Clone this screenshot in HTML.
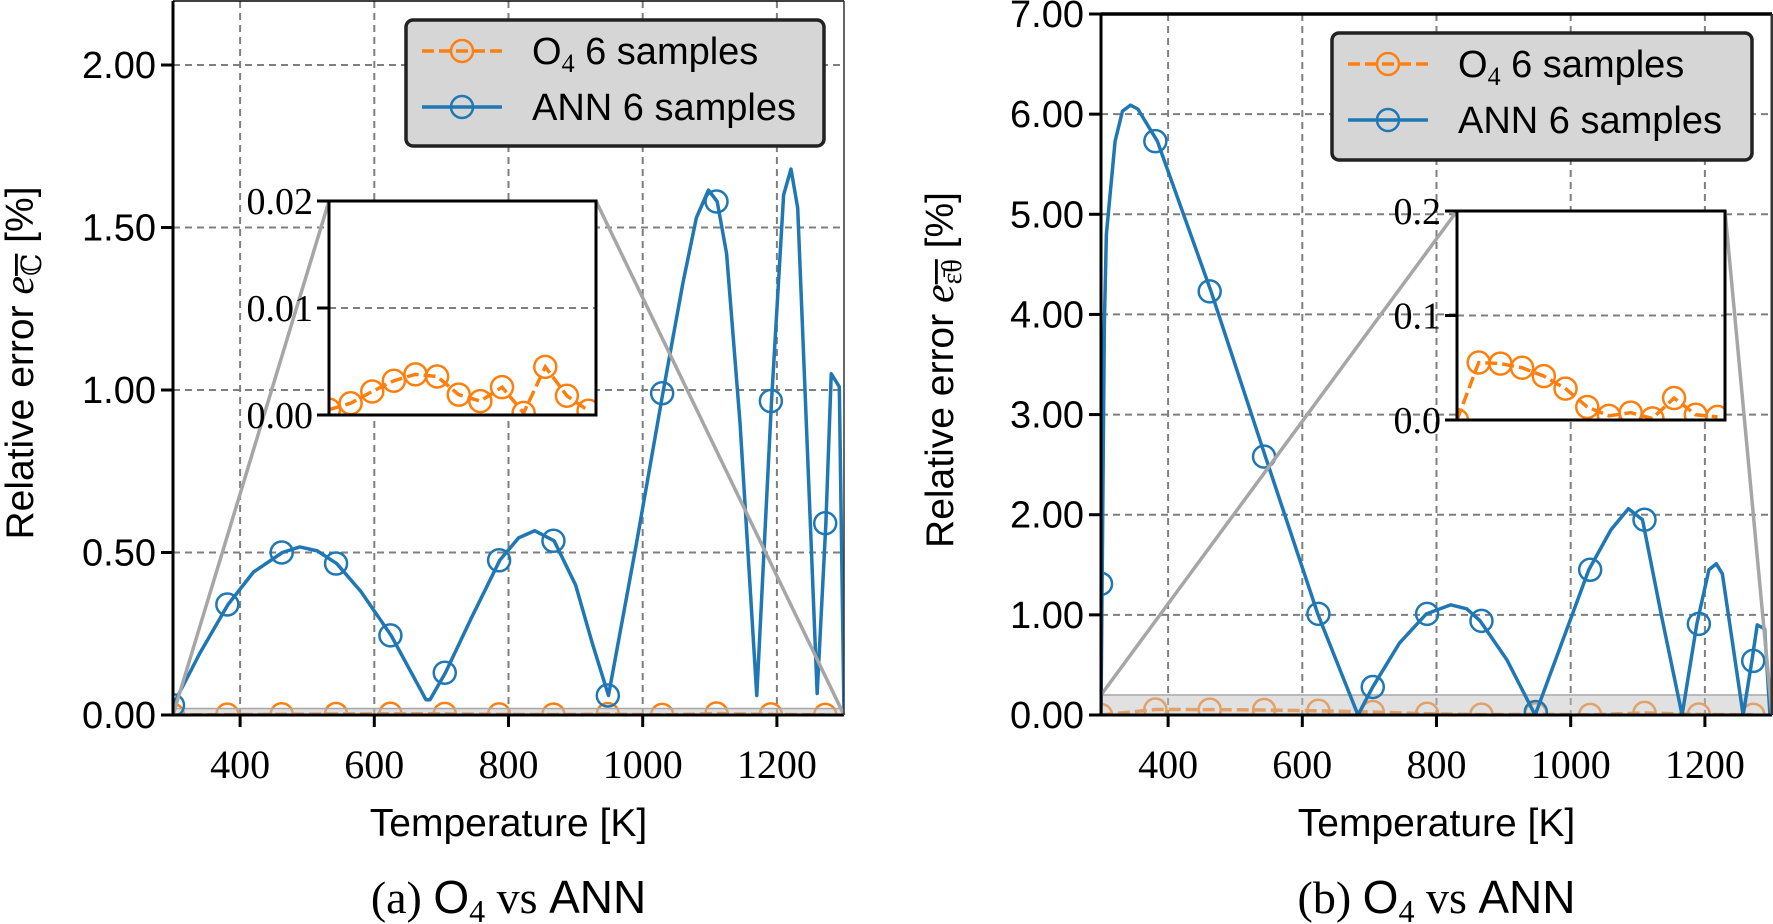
<!DOCTYPE html>
<html><head><meta charset="utf-8">
<style>
html,body{margin:0;padding:0;background:#fff;}
svg{display:block;}
.sans{font-family:"Liberation Sans",Arial,sans-serif;}
.serif{font-family:"Liberation Serif","DejaVu Serif",serif;}
</style></head>
<body>
<svg id="fig" width="1773" height="924" viewBox="0 0 1773 924" xmlns="http://www.w3.org/2000/svg">
<g id="panelA"></g>
<g id="panelB"></g>
</svg>
<script>
// ---------- data ----------
const markerT = [300,381,462,543,624,705,786,867,948,1029,1110,1191,1272];
// Panel (a)
const annA_T = [300,340,382,420,463,489,515,544,580,625,650,677,683,706,745,787,815,839,868,900,925,949,990,1030,1060,1080,1098,1111,1125,1145,1170,1192,1210,1221,1231,1260,1273,1281,1293,1300];
const annA_V = [0.03,0.19,0.34,0.44,0.50,0.517,0.505,0.466,0.38,0.245,0.15,0.047,0.047,0.13,0.30,0.476,0.545,0.567,0.536,0.40,0.22,0.06,0.52,0.99,1.33,1.53,1.615,1.58,1.42,0.9,0.06,0.966,1.60,1.68,1.56,0.066,0.59,1.05,1.01,0.0];
const annA_M = [0.03,0.34,0.50,0.466,0.245,0.13,0.476,0.536,0.06,0.99,1.58,0.966,0.59];
const o4A_M = [0.0005,0.0011,0.0022,0.0032,0.0038,0.0036,0.0019,0.0013,0.0026,0.0002,0.0045,0.0018,0.0004];
const yTicksA = [0,0.5,1.0,1.5,2.0];
const yTickLabelsA = ["0.00","0.50","1.00","1.50","2.00"];
const insetTicksA = [0,0.01,0.02];
const insetLabelsA = ["0.00","0.01","0.02"];
// Panel (b)
const annB_T = [300,305,308,321,332,344,355,384,464,545,623,683,705,745,785,821,845,865,905,947,1027,1060,1086,1107,1135,1166,1188,1206,1217,1226,1257,1270,1278,1289,1297];
const annB_V = [0,3.9,4.8,5.73,6.03,6.09,6.05,5.73,4.23,2.58,1.01,0,0.28,0.72,1.01,1.10,1.06,0.94,0.55,0,1.45,1.85,2.06,1.95,1.0,0,0.91,1.45,1.51,1.41,0,0.54,0.9,0.86,0];
const annB_M = [1.31,5.73,4.23,2.58,1.01,0.28,1.01,0.94,0.03,1.45,1.95,0.91,0.54];
const o4B_M = [0.0,0.055,0.054,0.050,0.042,0.030,0.0125,0.004,0.007,0.0015,0.021,0.005,0.003];
const yTicksB = [0,1,2,3,4,5,6,7];
const yTickLabelsB = ["0.00","1.00","2.00","3.00","4.00","5.00","6.00","7.00"];
const insetTicksB = [0,0.1,0.2];
const insetLabelsB = ["0.0","0.1","0.2"];
const xTicks = [400,600,800,1000,1200];
const xTickLabels = ["400","600","800","1000","1200"];

const NS="http://www.w3.org/2000/svg";
const BLUE="#1f77b4", ORANGE="#ff7f0e";
function mk(parent,tag,attrs,text){const e=document.createElementNS(NS,tag);for(const k in attrs)e.setAttribute(k,attrs[k]);if(text!==undefined)e.textContent=text;parent.appendChild(e);return e;}
function scale(d0,d1,r0,r1){return v=>r0+(v-d0)/(d1-d0)*(r1-r0);}

function panel(g,cfg){
  const x=scale(300,1300,cfg.L,cfg.R), y=scale(0,cfg.ymax,cfg.B,cfg.B-(cfg.B-cfg.T0)*cfg.ymax/cfg.ymaxRef);
  const clipId=cfg.id+"clip";
  const cp=mk(g,"clipPath",{id:clipId});mk(cp,"rect",{x:cfg.L,y:cfg.T,width:cfg.R-cfg.L,height:cfg.B-cfg.T});
  const grid=mk(g,"g",{"clip-path":`url(#${clipId})`});
  
  
  xTicks.forEach(t=>mk(grid,"line",{x1:x(t),x2:x(t),y1:cfg.T,y2:cfg.B,stroke:"#7f7f7f","stroke-width":2,"stroke-dasharray":"7,5"}));
  cfg.yt.forEach(t=>{if(t>0)mk(grid,"line",{x1:cfg.L,x2:cfg.R,y1:y(t),y2:y(t),stroke:"#7f7f7f","stroke-width":2,"stroke-dasharray":"7,5"});});
  const plot=mk(g,"g",{"clip-path":`url(#${clipId})`});
  const op=markerT.map((t,i)=>x(t)+","+y(cfg.o4[i])).join(" ");
  const ol=mk(plot,"polyline",{points:op,fill:"none",stroke:ORANGE,"stroke-width":3.5,"stroke-dasharray":"12,5"});
  
  
  markerT.forEach((t,i)=>{const c=mk(plot,"circle",{cx:x(t),cy:y(cfg.o4[i]),r:11,fill:"none",stroke:ORANGE,"stroke-width":2.5});
    
    });
  const band=mk(plot,"rect",{x:cfg.L,y:y(cfg.zoomMax),width:cfg.R-cfg.L,height:y(0)-y(cfg.zoomMax),fill:"rgba(195,195,195,0.5)",stroke:"#a8a8a8","stroke-width":1.5});
  
  
  const ap=cfg.annT.map((t,i)=>x(t)+","+y(cfg.annV[i])).join(" ");
  const al=mk(plot,"polyline",{points:ap,fill:"none",stroke:BLUE,"stroke-width":3.5,"stroke-linejoin":"round"});
  
  
  markerT.forEach((t,i)=>{const c=mk(plot,"circle",{cx:x(t),cy:y(cfg.annM[i]),r:11,fill:"none",stroke:BLUE,"stroke-width":2.5});
    
    });
  const I=cfg.inset;
  mk(g,"line",{x1:cfg.conn1[0],y1:cfg.conn1[1],x2:I.L,y2:I.T,stroke:"#a6a6a6","stroke-width":3.5});
  mk(g,"line",{x1:I.R,y1:I.T,x2:cfg.R,y2:cfg.B,stroke:"#a6a6a6","stroke-width":3.5});
  mk(g,"line",{x1:cfg.L,y1:cfg.T,x2:cfg.L,y2:cfg.B+1.5,stroke:"#000","stroke-width":3});
  mk(g,"line",{x1:cfg.L-1.5,y1:cfg.B,x2:cfg.R,y2:cfg.B,stroke:"#000","stroke-width":3});
  mk(g,"line",{x1:cfg.L,y1:cfg.T,x2:cfg.R,y2:cfg.T,stroke:"#000","stroke-width":cfg.topW});
  mk(g,"line",{x1:cfg.R,y1:cfg.T,x2:cfg.R,y2:cfg.B,stroke:"#333","stroke-width":cfg.rightW});
  xTicks.forEach((t,i)=>{mk(g,"line",{x1:x(t),x2:x(t),y1:cfg.B,y2:cfg.B+12,stroke:"#000","stroke-width":3});
    const tl=mk(g,"text",{x:x(t),y:cfg.B+63,"text-anchor":"middle","font-size":40,class:"serif"},xTickLabels[i]);
    
    });
  cfg.yt.forEach((t,i)=>{mk(g,"line",{x1:cfg.L-12,x2:cfg.L,y1:y(t),y2:y(t),stroke:"#000","stroke-width":3});
    const tl=mk(g,"text",{x:cfg.L-17,y:y(t)+13,"text-anchor":"end","font-size":38,class:"sans"},cfg.ytl[i]);
    
    });
  const ig=mk(g,"g",{});
  
  
  const ix=scale(300,1300,I.L,I.R), iy=scale(0,cfg.zoomMax,I.B,I.T);
  mk(ig,"rect",{x:I.L,y:I.T,width:I.R-I.L,height:I.B-I.T,fill:"#fff"});
  const icp=mk(ig,"clipPath",{id:cfg.id+"iclip"});mk(icp,"rect",{x:I.L,y:I.T,width:I.R-I.L,height:I.B-I.T});
  const ipl=mk(ig,"g",{"clip-path":`url(#${cfg.id}iclip)`});
  cfg.it.forEach(t=>{if(t>0&&t<cfg.zoomMax)mk(ipl,"line",{x1:I.L,x2:I.R,y1:iy(t),y2:iy(t),stroke:"#7f7f7f","stroke-width":2,"stroke-dasharray":"7,5"});});
  mk(ipl,"polyline",{points:markerT.map((t,i)=>ix(t)+","+iy(cfg.o4[i])).join(" "),fill:"none",stroke:ORANGE,"stroke-width":3.5,"stroke-dasharray":"12,5"});
  markerT.forEach((t,i)=>{const c=mk(ipl,"circle",{cx:ix(t),cy:iy(cfg.o4[i]),r:11,fill:"none",stroke:ORANGE,"stroke-width":2.5});
    
    });
  mk(ig,"rect",{x:I.L,y:I.T,width:I.R-I.L,height:I.B-I.T,fill:"none",stroke:"#000","stroke-width":3});
  cfg.it.forEach((t,i)=>{mk(ig,"line",{x1:I.L-12,x2:I.L,y1:iy(t),y2:iy(t),stroke:"#000","stroke-width":3});
    const tl=mk(ig,"text",{x:I.L-16,y:iy(t)+13,"text-anchor":"end","font-size":38,class:"serif"},cfg.itl[i]);
    
    });
  const Lg=cfg.leg;
  const lg=mk(g,"g",{});
  
  
  mk(lg,"rect",{x:Lg.x,y:Lg.y,width:Lg.w,height:Lg.h,rx:7,fill:"#d6d6d6",stroke:"#222","stroke-width":3.5});
  const r1=Lg.y+31, r2=Lg.y+87, hx=Lg.x+16;
  mk(lg,"line",{x1:hx,x2:hx+80,y1:r1,y2:r1,stroke:ORANGE,"stroke-width":3.5,"stroke-dasharray":"12,5"});
  mk(lg,"circle",{cx:hx+40,cy:r1,r:11,fill:"none",stroke:ORANGE,"stroke-width":2.5});
  mk(lg,"line",{x1:hx,x2:hx+80,y1:r2,y2:r2,stroke:BLUE,"stroke-width":3.5});
  mk(lg,"circle",{cx:hx+40,cy:r2,r:11,fill:"none",stroke:BLUE,"stroke-width":2.5});
  const t1=mk(lg,"text",{x:hx+110,y:r1+13,"font-size":38,class:"sans"});
  
  
  mk(t1,"tspan",{},"O");mk(t1,"tspan",{dy:8,"font-size":26,class:"serif"},"4");mk(t1,"tspan",{dy:-8},"\u00a06 samples");
  const t2=mk(lg,"text",{x:hx+110,y:r2+13,"font-size":38,class:"sans"},"ANN 6 samples");
  
  
  const xl=mk(g,"text",{x:(cfg.L+cfg.R)/2,y:836,"text-anchor":"middle","font-size":39,class:"sans"},"Temperature [K]");
  
  
  const cap=mk(g,"text",{x:(cfg.L+cfg.R)/2,y:913,"text-anchor":"middle","font-size":46,class:"serif"});
  
  
  mk(cap,"tspan",{},cfg.cap+" ");mk(cap,"tspan",{class:"sans"},"O");mk(cap,"tspan",{dy:9,"font-size":32},"4");
  mk(cap,"tspan",{dy:-9},"\u00a0vs ");mk(cap,"tspan",{class:"sans"},"ANN");
  return {x,y};
}

const gA=document.getElementById("panelA"), gB=document.getElementById("panelB");
panel(gA,{id:"a",L:173,R:844,T:1,B:715,T0:0,ymax:2.2,ymaxRef:2.2,topW:1.5,rightW:1.5,
  annT:annA_T,annV:annA_V,annM:annA_M,o4:o4A_M,yt:yTicksA,ytl:yTickLabelsA,zoomMax:0.02,
  inset:{L:329,R:596,T:201,B:415},it:insetTicksA,itl:insetLabelsA,conn1:[173,715],
  leg:{x:406,y:20,w:418,h:126},cap:"(a)"});
panel(gB,{id:"b",L:1101,R:1772,T:14,B:715,T0:14,ymax:7,ymaxRef:7,topW:3.5,rightW:3,
  annT:annB_T,annV:annB_V,annM:annB_M,o4:o4B_M,yt:yTicksB,ytl:yTickLabelsB,zoomMax:0.2,
  inset:{L:1457,R:1725,T:211,B:420},it:insetTicksB,itl:insetLabelsB,conn1:[1101,695],
  leg:{x:1332,y:33,w:420,h:127},cap:"(b)"});

function ylab(parent,cx,cy,sub){
  const t=mk(parent,"text",{transform:`translate(${cx},${cy}) rotate(-90)`,"text-anchor":"middle","font-size":39,class:"sans"});
  
  
  mk(t,"tspan",{},"Relative error ");
  mk(t,"tspan",{class:"serif","font-style":"italic","font-size":42},"e");
  mk(t,"tspan",{dy:8,"font-size":28,class:"serif","text-decoration":"overline"},sub);
  mk(t,"tspan",{dy:-8},"\u00a0[%]");
}
ylab(gA,33,363,"ℂ");
ylab(gB,953,370,"ε̄θ");
</script>
</body></html>
